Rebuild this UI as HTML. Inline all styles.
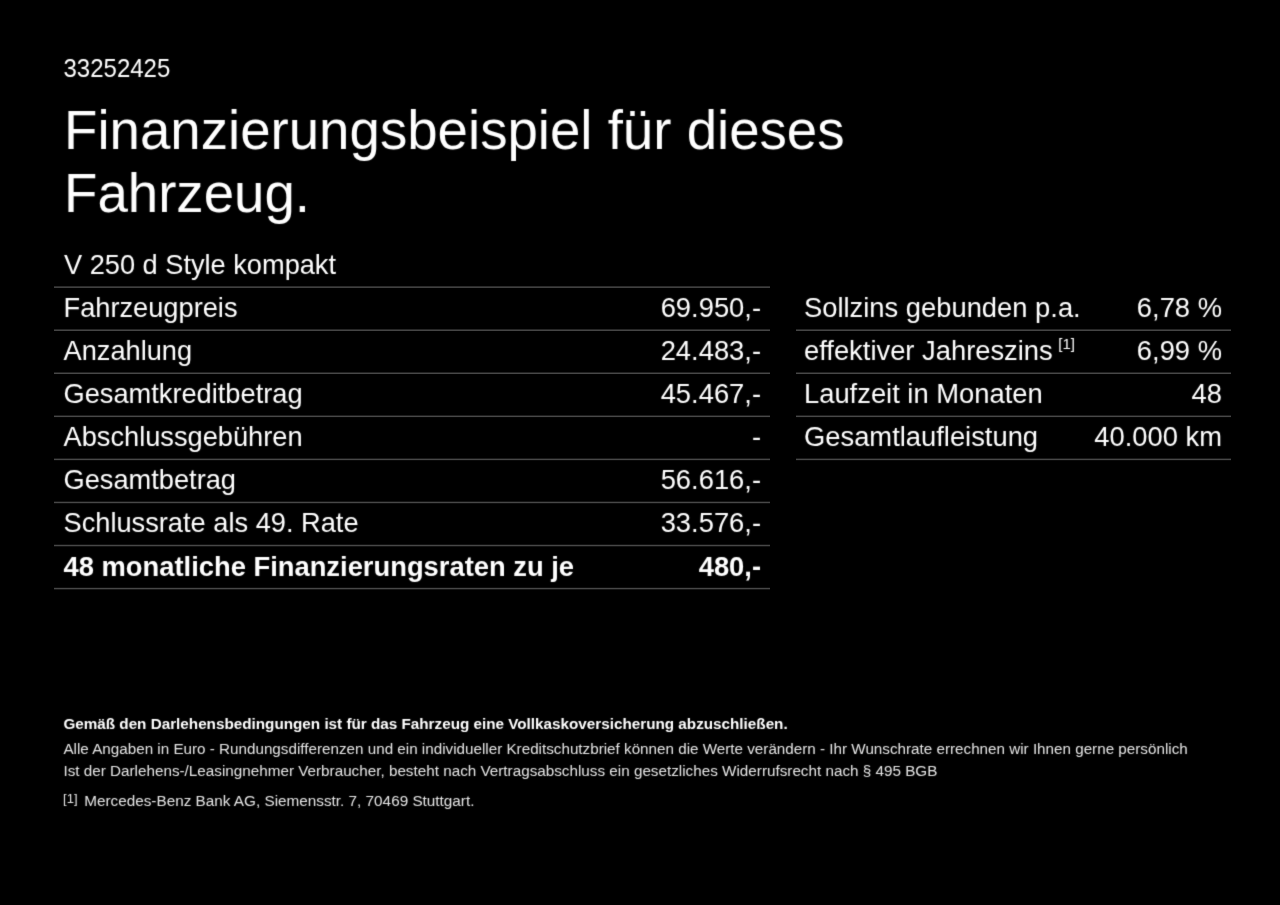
<!DOCTYPE html>
<html lang="de">
<head>
<meta charset="utf-8">
<title>Finanzierungsbeispiel</title>
<style>
  html, body { margin: 0; padding: 0; background: #000; }
  body {
    width: 1280px; height: 905px; position: relative; overflow: hidden;
    font-family: "Liberation Sans", sans-serif; color: #fff;
    -webkit-font-smoothing: antialiased;
  }
  #page { position: absolute; left: 0; top: 0; width: 1280px; height: 905px; will-change: transform; }
  #text { position: absolute; left: 0; top: 0; width: 1280px; height: 905px; filter: url(#soft); }
  .t { position: absolute; white-space: nowrap; line-height: 1; margin: 0; font-weight: normal; }
  .r { text-align: right; }
  .id, .r { transform: scaleY(1.04); transform-origin: 0 84.65%; }
  .id { left: 63.5px; top: 57.4px; font-size: 24px; }
  .h1 { left: 64px; font-size: 54.65px; }
  .model { left: 64px; top: 251px; font-size: 27.2px; }
  .row { font-size: 27.35px; }
  .l1 { left: 63.5px; font-size: 27.23px; }
  .l1.b { font-size: 27.35px; }
  .v1 { right: 519px; }
  .l2 { left: 804px; }
  .v2 { right: 58px; }
  .b { font-weight: bold; }
  .hr { position: absolute; top: 0; height: 3px; background: #484848; transform-origin: 0 0; }
  .hl { left: 54px; width: 716px; }
  .hrt { left: 796px; width: 435px; }
  .fine { left: 63.4px; font-size: 15.25px; color: #e6e6e6; }
  .fine.b { color: #fff; }
  sup.fn { font-size: 15px; vertical-align: baseline; position: relative; top: -10.7px; margin-left: 5.5px; line-height: 0; }
</style>
</head>
<body>
<svg width="0" height="0" style="position:absolute" aria-hidden="true"><defs>
  <filter id="soft" x="0" y="0" width="100%" height="100%" color-interpolation-filters="sRGB">
    <feConvolveMatrix order="3" kernelMatrix="0.02 0.09 0.02 0.09 0.56 0.09 0.02 0.09 0.02" divisor="1" edgeMode="duplicate" preserveAlpha="false"/>
  </filter>
</defs></svg>
<div id="page">
<div id="lines">
  <div class="hr hl" style="transform:translateY(286.40px) scaleY(0.5)"></div>
  <div class="hr hl" style="transform:translateY(329.46px) scaleY(0.5)"></div>
  <div class="hr hl" style="transform:translateY(372.52px) scaleY(0.5)"></div>
  <div class="hr hl" style="transform:translateY(415.58px) scaleY(0.5)"></div>
  <div class="hr hl" style="transform:translateY(458.64px) scaleY(0.5)"></div>
  <div class="hr hl" style="transform:translateY(501.70px) scaleY(0.5)"></div>
  <div class="hr hl" style="transform:translateY(544.76px) scaleY(0.5)"></div>
  <div class="hr hl" style="transform:translateY(587.82px) scaleY(0.5)"></div>
  <div class="hr hrt" style="transform:translateY(329.46px) scaleY(0.5)"></div>
  <div class="hr hrt" style="transform:translateY(372.52px) scaleY(0.5)"></div>
  <div class="hr hrt" style="transform:translateY(415.58px) scaleY(0.5)"></div>
  <div class="hr hrt" style="transform:translateY(458.64px) scaleY(0.5)"></div>
</div>
<div id="text">
  <div class="t id">33252425</div>
  <h1 class="t h1" style="top:103.6px">Finanzierungsbeispiel für dieses</h1>
  <h1 class="t h1" style="top:167.1px">Fahrzeug.</h1>
  <div class="t model">V 250 d Style kompakt</div>


  <!-- left table -->
  <div class="t row l1" style="top:294.0px">Fahrzeugpreis</div>
  <div class="t row r v1" style="top:294.0px">69.950,-</div>
  <div class="t row l1" style="top:337.1px">Anzahlung</div>
  <div class="t row r v1" style="top:337.1px">24.483,-</div>
  <div class="t row l1" style="top:380.1px">Gesamtkreditbetrag</div>
  <div class="t row r v1" style="top:380.1px">45.467,-</div>
  <div class="t row l1" style="top:423.2px">Abschlussgebühren</div>
  <div class="t row r v1" style="top:423.2px">-</div>
  <div class="t row l1" style="top:466.3px">Gesamtbetrag</div>
  <div class="t row r v1" style="top:466.3px">56.616,-</div>
  <div class="t row l1" style="top:509.4px">Schlussrate als 49. Rate</div>
  <div class="t row r v1" style="top:509.4px">33.576,-</div>
  <div class="t row l1 b" style="top:552.9px">48 monatliche Finanzierungsraten zu je</div>
  <div class="t row r v1 b" style="top:552.9px">480,-</div>

  <!-- right table -->
  <div class="t row l2" style="top:294.0px">Sollzins gebunden p.a.</div>
  <div class="t row r v2" style="top:294.0px">6,78 %</div>
  <div class="t row l2" style="top:337.1px">effektiver Jahreszins<sup class="fn">[1]</sup></div>
  <div class="t row r v2" style="top:337.1px">6,99 %</div>
  <div class="t row l2" style="top:380.1px">Laufzeit in Monaten</div>
  <div class="t row r v2" style="top:380.1px">48</div>
  <div class="t row l2" style="top:423.2px">Gesamtlaufleistung</div>
  <div class="t row r v2" style="top:423.2px">40.000 km</div>

  <!-- fine print -->
  <div class="t fine b" style="top:716.1px">Gemäß den Darlehensbedingungen ist für das Fahrzeug eine Vollkaskoversicherung abzuschließen.</div>
  <div class="t fine" style="top:740.6px; font-size:15.222px">Alle Angaben in Euro - Rundungsdifferenzen und ein individueller Kreditschutzbrief können die Werte verändern - Ihr Wunschrate errechnen wir Ihnen gerne persönlich</div>
  <div class="t fine" style="top:763.3px">Ist der Darlehens-/Leasingnehmer Verbraucher, besteht nach Vertragsabschluss ein gesetzliches Widerrufsrecht nach § 495 BGB</div>
  <div class="t fine" style="top:792.4px; left:63.1px; font-size:13px;">[1]</div>
  <div class="t fine" style="top:792.7px; left:84.2px; font-size:15.3px">Mercedes-Benz Bank AG, Siemensstr. 7, 70469 Stuttgart.</div>
</div>
</div>
</body>
</html>
